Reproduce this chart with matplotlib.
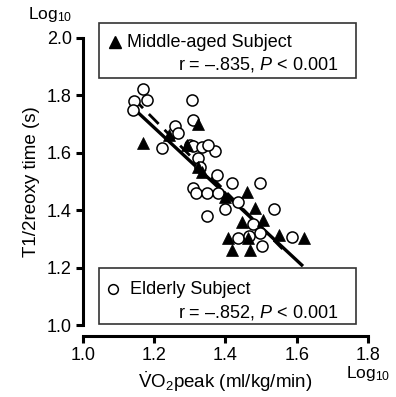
import matplotlib
matplotlib.use("Agg")
import matplotlib.pyplot as plt
from matplotlib.patches import Rectangle

plt.rcParams['font.family'] = ['Liberation Sans', 'DejaVu Sans']
plt.rcParams['mathtext.fontset'] = 'custom'
plt.rcParams['mathtext.rm'] = 'Liberation Sans'
plt.rcParams['mathtext.it'] = 'Liberation Sans:italic'

# elderly subjects (open circles), log10 values
eld_x = [1.168, 1.143, 1.181, 1.139, 1.305, 1.310, 1.258, 1.268, 1.221, 1.301,
         1.310, 1.333, 1.371, 1.324, 1.329, 1.375, 1.418, 1.497, 1.310, 1.317,
         1.349, 1.380, 1.436, 1.399, 1.537, 1.347, 1.478, 1.436, 1.497, 1.502,
         1.586, 1.350, 1.465]
eld_y = [1.821, 1.780, 1.784, 1.749, 1.784, 1.714, 1.693, 1.668, 1.616, 1.627,
         1.624, 1.621, 1.606, 1.583, 1.552, 1.523, 1.494, 1.494, 1.476, 1.461,
         1.461, 1.459, 1.430, 1.404, 1.404, 1.380, 1.352, 1.302, 1.320, 1.275,
         1.305, 1.627, 1.310]

# middle-aged subjects (filled triangles)
mid_x = [1.169, 1.324, 1.240, 1.291, 1.324, 1.333, 1.460, 1.399, 1.483, 1.446,
         1.506, 1.408, 1.464, 1.549, 1.619, 1.418, 1.469]
mid_y = [1.633, 1.700, 1.662, 1.627, 1.552, 1.534, 1.465, 1.447, 1.407, 1.360,
         1.366, 1.302, 1.302, 1.314, 1.302, 1.261, 1.261]

# regression lines (end points)
fit_mid_x = [1.139, 1.614]
fit_mid_y = [1.758, 1.209]
fit_eld_x = [1.141, 1.560]
fit_eld_y = [1.790, 1.265]

xticks = [1.0, 1.2, 1.4, 1.6, 1.8]
yticks = [1.0, 1.2, 1.4, 1.6, 1.8, 2.0]

fig = plt.figure(figsize=(3.96, 3.97), dpi=100)
ax = fig.add_axes([83 / 396, 1 - 325 / 397, 285 / 396, 287 / 397])

ax.plot(fit_eld_x, fit_eld_y, color='black', lw=2.0, ls=(0, (5, 3)), zorder=2)
ax.plot(fit_mid_x, fit_mid_y, color='black', lw=2.4, zorder=2)
ax.plot(eld_x, eld_y, 'o', ms=8, mfc='white', mec='black', mew=1.1, zorder=3)
ax.plot(mid_x, mid_y, '^', ms=8, mfc='black', mec='black', mew=0.5, zorder=4)

ax.set_xlim(1.0, 1.8)
ax.set_ylim(1.0, 2.0)
ax.set_xticks(xticks)
ax.set_yticks(yticks)
ax.set_xticklabels(['%.1f' % v for v in xticks])
ax.set_yticklabels(['%.1f' % v for v in yticks])
for s in ['top', 'right']:
    ax.spines[s].set_visible(False)
for s in ['left', 'bottom']:
    ax.spines[s].set_linewidth(2.2)
ax.spines['bottom'].set_position(('outward', 8))
ax.tick_params(width=2.2, length=5, labelsize=13, pad=3)
ax.set_ylabel('T1/2reoxy time (s)', fontsize=13.5, labelpad=5)
ax.set_xlabel(r'$\dot{\mathrm{V}}\mathrm{O}_2$peak (ml/kg/min)', fontsize=13.5,
              labelpad=4)

# legend boxes
ax.add_patch(Rectangle((0.056, 0.861), 0.902, 0.191, transform=ax.transAxes,
                       fill=False, ec='#333333', lw=1.2, clip_on=False))
ax.add_patch(Rectangle((0.056, 0.004), 0.902, 0.195, transform=ax.transAxes,
                       fc='white', ec='#333333', lw=1.2, clip_on=False, zorder=5))
ax.plot([0.112], [0.986], '^', ms=8, color='black', transform=ax.transAxes,
        clip_on=False)
ax.text(0.154, 0.986, 'Middle-aged Subject', transform=ax.transAxes,
        fontsize=13, va='center', ha='left')
ax.text(0.895, 0.906, r'r = –.835, $\mathit{P}$ < 0.001', transform=ax.transAxes,
        fontsize=13, va='center', ha='right')
ax.plot([0.105], [0.125], 'o', ms=7, mfc='white', mec='black', mew=1.1,
        transform=ax.transAxes, clip_on=False, zorder=6)
ax.text(0.165, 0.125, 'Elderly Subject', transform=ax.transAxes,
        fontsize=13, va='center', ha='left', zorder=6)
ax.text(0.895, 0.042, r'r = –.852, $\mathit{P}$ < 0.001', transform=ax.transAxes,
        fontsize=13, va='center', ha='right', zorder=6)

fig.text(28 / 396, 1 - 14 / 397, r'Log$_{10}$', fontsize=12.5, va='center', ha='left')
fig.text(346 / 396, 1 - 364 / 397, r'Log$_{10}$', fontsize=12.5, va='top', ha='left')

fig.savefig('out.png', dpi=100)
